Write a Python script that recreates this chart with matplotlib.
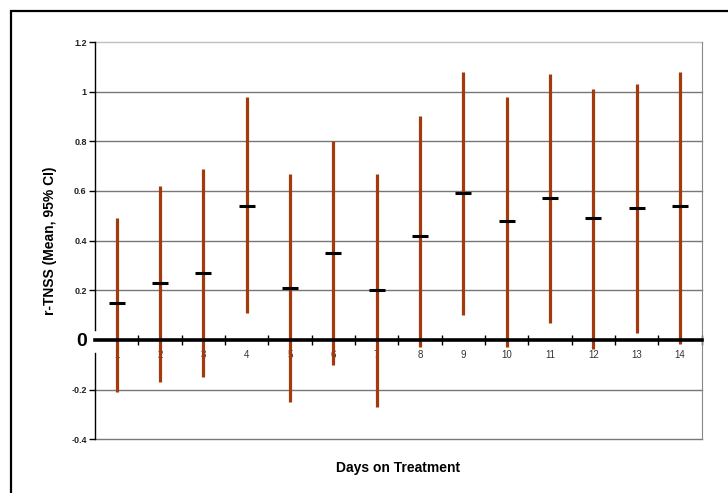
import matplotlib.pyplot as plt
import matplotlib.patches as patches

plt.rcParams['font.family'] = ['Liberation Sans', 'DejaVu Sans']

# Days on treatment and r-TNSS mean with 95% CI
days = [1, 2, 3, 4, 5, 6, 7, 8, 9, 10, 11, 12, 13, 14]
means = [0.15, 0.23, 0.27, 0.54, 0.21, 0.35, 0.20, 0.42, 0.59, 0.48, 0.57, 0.49, 0.53, 0.54]
upper = [0.49, 0.62, 0.69, 0.98, 0.67, 0.80, 0.67, 0.90, 1.08, 0.98, 1.07, 1.01, 1.03, 1.08]
lower = [-0.21, -0.17, -0.15, 0.11, -0.25, -0.10, -0.27, -0.03, 0.10, -0.03, 0.07, -0.035, 0.03, -0.015]
y_ticks = [-0.4, -0.2, 0, 0.2, 0.4, 0.6, 0.8, 1.0, 1.2]
y_labels = ['-0.4', '-0.2', '0', '0.2', '0.4', '0.6', '0.8', '1', '1.2']

fig = plt.figure(figsize=(7.28, 4.93), dpi=100)
ax = fig.add_axes([95 / 728, 1 - 439.3 / 493, 606.5 / 728, 397.3 / 493])

# outer chart frame (cut off at right and bottom)
frame = patches.Rectangle((11 / 728, -0.1), 1.0, 1 - 11 / 493 + 0.1, transform=fig.transFigure,
                          fill=False, edgecolor='black', lw=1.6)
fig.patches.append(frame)

# gridlines
for y in y_ticks:
    if y == 0:
        continue
    c = '#c0c0c0' if y == 1.2 else '#777777'
    ax.axhline(y, color=c, lw=1, zorder=1, clip_on=False)

# CI bars under the axis so tick labels sit on top
ax.vlines(days, lower, upper, color='#a33a0c', lw=2.3, zorder=2)
ax.plot(days, means, ls='none', marker='_', markersize=11, mew=2.2, color='black', zorder=4)

ax.set_xlim(0.5, 14.5)
ax.set_ylim(-0.4, 1.2)

# spines
ax.spines['top'].set_visible(False)
ax.spines['right'].set_color('#888888')
ax.spines['left'].set_visible(False)
ax.spines['bottom'].set_position(('data', 0))
ax.spines['bottom'].set_linewidth(2.6)
ax.spines['bottom'].set_zorder(5)
# left axis line with a gap behind the big "0"
ax.plot([0.5, 0.5], [-0.4, -0.053], color='black', lw=1, clip_on=False, zorder=5)
ax.plot([0.5, 0.5], [0.04, 1.2], color='black', lw=1, clip_on=False, zorder=5)

# x ticks: marks at category boundaries, labels at the days
ax.set_xticks([d + 0.5 for d in days])
ax.set_xticklabels([])
ax.set_xticks(days, minor=True)
ax.set_xticklabels([str(d) for d in days], minor=True, fontsize=7, color='#333333')
ax.tick_params(axis='x', which='major', direction='inout', length=7, width=1, color='black')
ax.tick_params(axis='x', which='minor', length=0, pad=7)

ax.set_yticks(y_ticks)
ax.set_yticklabels(y_labels, fontsize=6.5, fontweight='bold', color='#222222')
ax.tick_params(axis='y', length=4, width=1, pad=2)
for t, lab in zip(ax.yaxis.get_major_ticks(), ax.get_yticklabels()):
    if lab.get_text() == '0':
        lab.set_fontsize(14)
        lab.set_color('black')
        t.tick1line.set_visible(False)

ax.set_ylabel('r-TNSS (Mean, 95% CI)', fontsize=10, fontweight='bold', labelpad=10)
ax.set_xlabel('Days on Treatment', fontsize=10, fontweight='bold')
ax.xaxis.set_label_coords(0.5, -0.055)

fig.savefig('out.png', dpi=100)
